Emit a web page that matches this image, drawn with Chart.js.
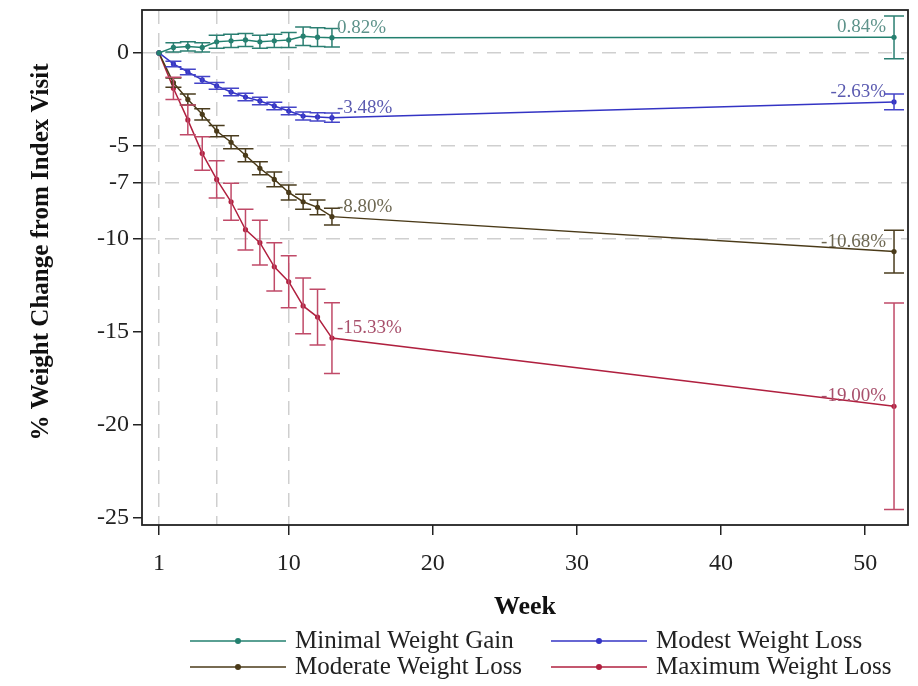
<!DOCTYPE html>
<html><head><meta charset="utf-8">
<script src="https://cdn.jsdelivr.net/npm/chart.js@4"></script>
<style>html,body{margin:0;padding:0;background:#fff}</style>
</head><body>
<canvas id="c" width="918" height="686"></canvas>
<script>
// ---- data ----
const weeks = [1,2,3,4,5,6,7,8,9,10,11,12,13,52];
const seriesNames = ['Minimal Weight Gain','Modest Weight Loss','Moderate Weight Loss','Maximum Weight Loss'];
const minimalGain   = [0, 0.30, 0.35, 0.30, 0.60, 0.65, 0.70, 0.60, 0.65, 0.70, 0.90, 0.85, 0.82, 0.84];
const minimalErr    = [0, 0.25, 0.25, 0.25, 0.35, 0.35, 0.35, 0.35, 0.35, 0.40, 0.50, 0.50, 0.50, 1.15];
const modestLoss    = [0, -0.59, -1.02, -1.45, -1.77, -2.10, -2.37, -2.58, -2.85, -3.12, -3.39, -3.44, -3.48, -2.63];
const modestErr     = [0, 0.15, 0.15, 0.18, 0.18, 0.20, 0.20, 0.20, 0.20, 0.20, 0.22, 0.22, 0.25, 0.42];
const moderateLoss  = [0, -1.6, -2.5, -3.3, -4.2, -4.8, -5.5, -6.2, -6.8, -7.5, -8.0, -8.3, -8.80, -10.68];
const moderateErr   = [0, 0.25, 0.30, 0.30, 0.30, 0.35, 0.35, 0.35, 0.40, 0.40, 0.40, 0.40, 0.45, 1.15];
const maximumLoss   = [0, -1.9, -3.6, -5.4, -6.8, -8.0, -9.5, -10.2, -11.5, -12.3, -13.6, -14.2, -15.33, -19.00];
const maximumErr    = [0, 0.6, 0.8, 0.9, 1.0, 1.0, 1.1, 1.2, 1.3, 1.4, 1.5, 1.5, 1.9, 5.55];
const labelsWeek13  = ['0.82%', '-3.48%', '-8.80%', '-15.33%'];
const labelsWeek52  = ['0.84%', '-2.63%', '-10.68%', '-19.00%'];
const yTickValues   = [0, -5, -7, -10, -15, -20, -25];
const yGridValues   = [0, -5, -7, -10];
const xTickValues   = [1, 5, 10, 20, 30, 40, 50];
const xGridValues   = [1, 5, 10];
const xTitle = 'Week';
const yTitle = '% Weight Change from Index Visit';

// ---- styles ----
const lineColors  = ['#23806f', '#3434c4', '#4a3a18', '#b0203f'];
const barColors   = ['#2b7f72', '#4444c8', '#4a3c1e', '#c04a68'];
const labelColors = ['#5e938b', '#5a5ab0', '#6e6852', '#a8506c'];
const serif = "'Liberation Serif', 'Times New Roman', serif";

const values = [minimalGain, modestLoss, moderateLoss, maximumLoss];
const errs = [minimalErr, modestErr, moderateErr, maximumErr];

const datasets = values.map((vals, i) => ({
  label: seriesNames[i],
  data: weeks.map((w, j) => ({x: w, y: vals[j]})),
  borderColor: lineColors[i],
  backgroundColor: lineColors[i],
  borderWidth: 1.5,
  pointRadius: 2.6,
  pointBorderWidth: 0,
  pointBackgroundColor: lineColors[i],
  tension: 0,
  fill: false
}));

const extras = {
  id: 'extras',
  afterDatasetsDraw(chart) {
    const ctx = chart.ctx;
    const ys = chart.scales.y;
    ctx.save();
    values.forEach((vals, i) => {
      const meta = chart.getDatasetMeta(i);
      ctx.strokeStyle = barColors[i];
      ctx.lineWidth = 1.5;
      vals.forEach((v, j) => {
        const e = errs[i][j];
        if (!e) return;
        const x = meta.data[j].x;
        const yt = ys.getPixelForValue(v + e);
        const yb = ys.getPixelForValue(v - e);
        const cap = weeks[j] === 52 ? 10 : 8;
        ctx.beginPath();
        ctx.moveTo(x, yt); ctx.lineTo(x, yb);
        ctx.moveTo(x - cap, yt); ctx.lineTo(x + cap, yt);
        ctx.moveTo(x - cap, yb); ctx.lineTo(x + cap, yb);
        ctx.stroke();
      });
    });
    ctx.font = "19px " + serif;
    ctx.textBaseline = 'middle';
    values.forEach((vals, i) => {
      const meta = chart.getDatasetMeta(i);
      const p13 = meta.data[weeks.indexOf(13)];
      const p52 = meta.data[weeks.indexOf(52)];
      ctx.fillStyle = labelColors[i];
      ctx.textAlign = 'left';
      ctx.fillText(labelsWeek13[i], p13.x + 5, p13.y - 10);
      ctx.textAlign = 'right';
      ctx.fillText(labelsWeek52[i], p52.x - 8, p52.y - 10);
    });
    ctx.restore();
  },
  afterDraw(chart) {
    const ctx = chart.ctx;
    const a = chart.chartArea;
    ctx.save();
    ctx.strokeStyle = '#222';
    ctx.lineWidth = 1.8;
    ctx.strokeRect(a.left, a.top, a.right - a.left, a.bottom - a.top);
    // y axis title
    ctx.save();
    ctx.translate(42, 252);
    ctx.rotate(-Math.PI / 2);
    ctx.font = "bold 25px " + serif;
    ctx.fillStyle = '#111';
    ctx.textAlign = 'center';
    ctx.textBaseline = 'middle';
    ctx.fillText(yTitle, 0, 0);
    ctx.restore();
    // legend
    const pos = [[190, 641], [551, 641], [190, 667], [551, 667]];
    ctx.font = "25px " + serif;
    ctx.textBaseline = 'middle';
    ctx.textAlign = 'left';
    pos.forEach((p, i) => {
      const [x, y] = p;
      ctx.strokeStyle = lineColors[i];
      ctx.lineWidth = 1.5;
      ctx.beginPath(); ctx.moveTo(x, y); ctx.lineTo(x + 96, y); ctx.stroke();
      ctx.fillStyle = lineColors[i];
      ctx.beginPath(); ctx.arc(x + 48, y, 3, 0, Math.PI * 2); ctx.fill();
      ctx.fillStyle = '#222';
      ctx.fillText(seriesNames[i], x + 105, y);
    });
    ctx.restore();
  }
};

new Chart(document.getElementById('c'), {
  type: 'line',
  data: { datasets },
  plugins: [extras],
  options: {
    responsive: false,
    devicePixelRatio: 1,
    animation: false,
    layout: { padding: { left: 0, top: 10, right: 10, bottom: 63 } },
    plugins: { legend: { display: false }, tooltip: { enabled: false } },
    scales: {
      x: {
        type: 'linear',
        min: -0.18, max: 52.97,
        afterFit(s) { s.height = 98; s.paddingLeft = 0; s.paddingRight = 0; },
        afterBuildTicks(s) { s.ticks = xTickValues.map(v => ({value: v})); },
        ticks: {
          autoSkip: false, maxRotation: 0, padding: 14,
          color: '#222', font: { family: serif, size: 24 },
          callback: v => (v === 5 ? '' : String(v))
        },
        grid: {
          drawOnChartArea: true, drawTicks: true, tickLength: 10,
          color: c => (c.tick && xGridValues.includes(c.tick.value) ? '#cfcfcf' : 'rgba(0,0,0,0)'),
          lineWidth: 1.5,
          tickColor: c => (c.tick && c.tick.value === 5 ? 'rgba(0,0,0,0)' : '#222'),
          tickWidth: 1.5
        },
        border: { display: false, dash: [14, 9] },
        title: {
          display: true, text: xTitle, color: '#111',
          font: { family: serif, size: 26, weight: 'bold' },
          padding: { top: 0, bottom: 0 }
        }
      },
      y: {
        type: 'linear',
        min: -25.38, max: 2.31,
        afterFit(s) { s.width = 142; s.paddingTop = 0; s.paddingBottom = 0; },
        afterBuildTicks(s) { s.ticks = yTickValues.map(v => ({value: v})); },
        ticks: {
          autoSkip: false, padding: 4,
          color: '#222', font: { family: serif, size: 24 },
          callback: v => String(v)
        },
        grid: {
          drawOnChartArea: true, drawTicks: true, tickLength: 9,
          color: c => (c.tick && yGridValues.includes(c.tick.value) ? '#cfcfcf' : 'rgba(0,0,0,0)'),
          lineWidth: 1.5,
          tickColor: '#222', tickWidth: 1.5
        },
        border: { display: false, dash: [14, 9] },
        title: { display: false }
      }
    }
  }
});
</script>
</body></html>
